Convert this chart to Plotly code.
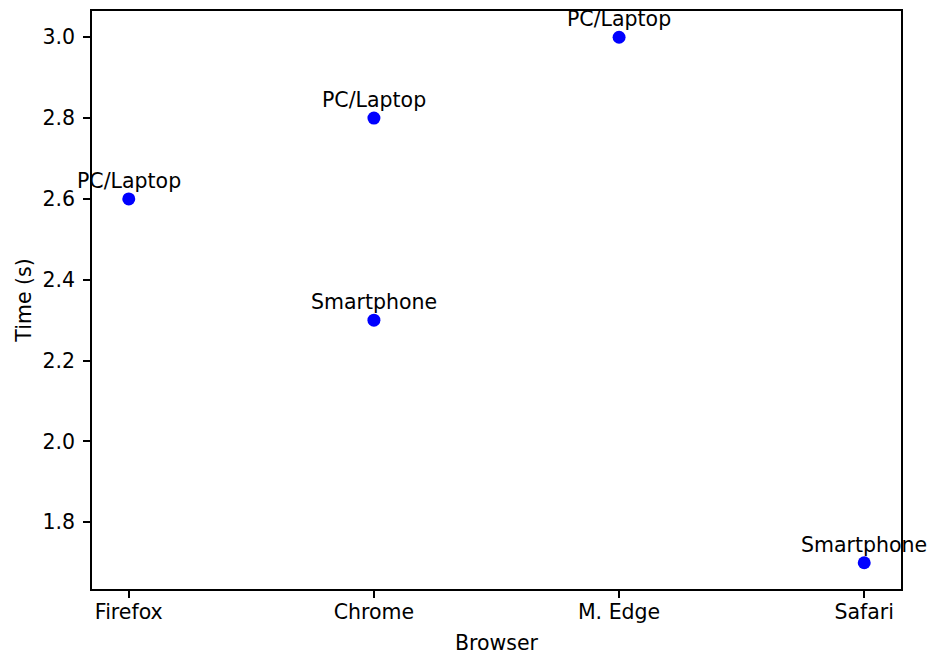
import plotly.graph_objects as go

browsers = ["Firefox", "Chrome", "Chrome", "M. Edge", "Safari"]
times = [2.6, 2.8, 2.3, 3.0, 1.7]
devices = ["PC/Laptop", "PC/Laptop", "Smartphone", "PC/Laptop", "Smartphone"]
categories = ["Firefox", "Chrome", "M. Edge", "Safari"]
y_ticks = [1.8, 2.0, 2.2, 2.4, 2.6, 2.8, 3.0]

FONT = "DejaVu Sans"
FS = 20.5

fig = go.Figure()
fig.add_trace(go.Scatter(
    x=browsers, y=times, mode="markers",
    marker=dict(color="#0000ff", size=13, line=dict(width=0)),
    showlegend=False,
))

for b, t, d in zip(browsers, times, devices):
    fig.add_annotation(
        x=b, y=t, text=d, showarrow=False,
        xanchor="center", yanchor="bottom", yshift=4,
        font=dict(family=FONT, size=FS, color="black"),
    )

axis_common = dict(
    showline=True, linecolor="black", linewidth=1.6, mirror=True,
    ticks="outside", ticklen=7, tickwidth=1.5, tickcolor="black",
    showgrid=False, zeroline=False, automargin=False,
    tickfont=dict(family=FONT, size=FS, color="black"),
    title_font=dict(family=FONT, size=FS, color="black"),
)

fig.update_xaxes(
    type="category", categoryorder="array", categoryarray=categories,
    range=[-0.15, 3.15], title_text="Browser", title_standoff=18,
    ticklabelstandoff=-3,
    **axis_common,
)
fig.update_yaxes(
    range=[1.635, 3.065], tickvals=y_ticks,
    ticktext=[f"{v:.1f}" for v in y_ticks],
    title_text="Time (s)", title_standoff=5,
    ticklabelstandoff=4,
    **axis_common,
)

fig.update_layout(
    width=936, height=655,
    margin=dict(l=92, r=35, t=11, b=66),
    paper_bgcolor="white", plot_bgcolor="white",
    font=dict(family=FONT, size=FS, color="black"),
)

fig.write_html("out.html")
